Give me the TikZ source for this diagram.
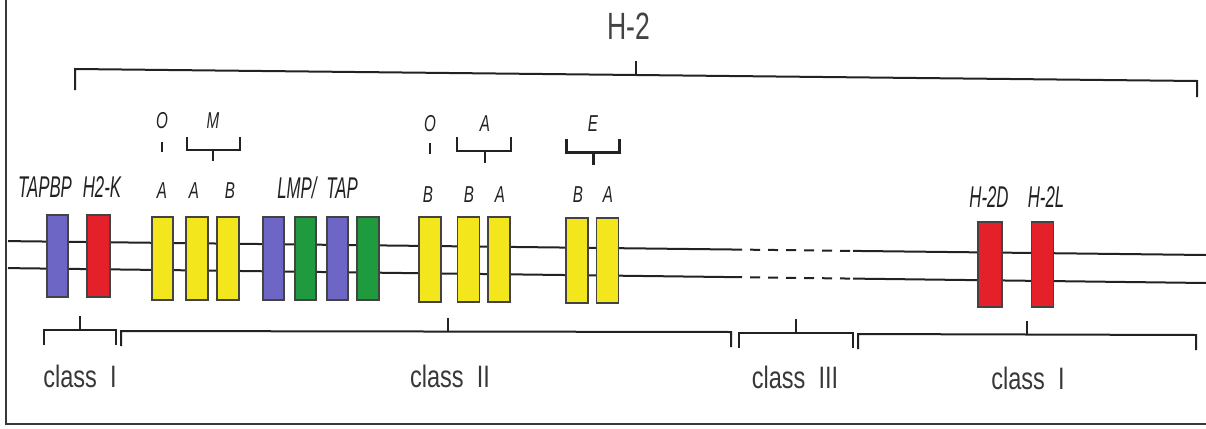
\documentclass[tikz,border=0pt]{standalone}
\usepackage{fontspec}
\setmainfont{Liberation Sans}
\newfontfamily\genefont[FakeStretch=0.56]{Liberation Sans}
\newfontfamily\letterfont[FakeStretch=0.66]{Liberation Sans}
\newfontfamily\classfont[FakeStretch=0.76]{Liberation Sans}
\newfontfamily\titlefont[FakeStretch=0.70]{Liberation Sans}
\definecolor{genyellow}{HTML}{F4E61C}
\definecolor{genblue}{HTML}{6E66C4}
\definecolor{gengreen}{HTML}{1F9A3E}
\definecolor{genred}{HTML}{E4202A}
\definecolor{ink}{HTML}{222222}
\tikzset{
  gene/.style={draw=ink!85, line width=1.2pt, minimum width=22pt, minimum height=83pt, inner sep=0pt},
  yel/.style={gene, fill=genyellow},
  blu/.style={gene, fill=genblue},
  grn/.style={gene, fill=gengreen},
  rd/.style={gene, fill=genred, minimum height=85pt},
  genelab/.style={anchor=base, inner sep=0pt, text=ink, font=\genefont\itshape\fontsize{30}{30}\selectfont},
  letlab/.style={anchor=base, inner sep=0pt, text=ink, font=\letterfont\itshape\fontsize{23}{23}\selectfont},
  classlab/.style={anchor=base, inner sep=0pt, text=ink!90, font=\classfont\fontsize{31}{31}\selectfont},
  chrom/.style={line width=2pt, draw=ink},
  brace/.style={line width=2pt, draw=ink},
  frame/.style={line width=2pt, draw=ink!90}
}
\begin{document}
\begin{tikzpicture}[x=1pt, y=-1pt]
\useasboundingbox (0,0) rectangle (1206,428);

% outer frame (left and bottom edges)
\draw[frame] (6,0) -- (6,424) -- (1206,424);

% H-2 region bracket and title
\node[anchor=base, inner sep=0pt, text=ink!85, font=\titlefont\fontsize{38}{38}\selectfont] (h2) at (629,40) {H-2};
\coordinate (h2l) at (75,69);
\coordinate (h2r) at (1197,81);
\coordinate (h2c) at (636,75);
\draw[brace] ([yshift=-21pt]h2l) -- (h2l) -- (h2r) -- ([yshift=-16pt]h2r);
\draw[brace] (h2c) -- ([yshift=14pt]h2c);

% chromosome strands (dashed stretch in the middle)
\coordinate (u0) at (8,241.1);  \coordinate (u1) at (732,249.5);
\coordinate (u2) at (853,250.9); \coordinate (u3) at (1206,255);
\coordinate (l0) at (8,268.1);  \coordinate (l1) at (732,277.1);
\coordinate (l2) at (853,278.6); \coordinate (l3) at (1206,283);
\draw[chrom] (u0) -- (u1);
\draw[chrom, dash pattern=on 10pt off 8pt] (u1) -- (u2);
\draw[chrom] (u2) -- (u3);
\draw[chrom] (l0) -- (l1);
\draw[chrom, dash pattern=on 10pt off 8pt] (l1) -- (l2);
\draw[chrom] (l2) -- (l3);

% genes
\node[blu, minimum width=21pt, minimum height=82pt] (tapbp) at (57.5,256) {};
\node[rd, minimum width=23pt, minimum height=82pt] (h2k) at (98.5,256) {};
\node[yel, minimum width=21pt] (oa) at (162.5,258.5) {};
\node[yel] (ma) at (197,258.5) {};
\node[yel] (mb) at (228,258.5) {};
\node[blu, minimum width=21pt] (lmp1) at (273.5,258.5) {};
\node[grn, minimum width=21pt] (tap1) at (305.5,258.5) {};
\node[blu, minimum width=21pt] (lmp2) at (337.5,258.5) {};
\node[grn] (tap2) at (368,258.5) {};
\node[yel, minimum height=85pt] (ob) at (430,259.5) {};
\node[yel, minimum height=85pt] (ab) at (468.5,259.5) {};
\node[yel, minimum height=85pt] (aa) at (499,259.5) {};
\node[yel, minimum height=85pt] (eb) at (577,260.5) {};
\node[yel, minimum height=85pt] (ea) at (607.5,260.5) {};
\node[rd, minimum width=24pt] (h2d) at (990,264.5) {};
\node[rd] (h2lg) at (1042.5,264.5) {};

% gene names
\node[genelab] (ltapbp) at (45,197) {TAPBP};
\node[genelab] (lh2k) at (102,197) {H2-K};
\node[genelab] (llmp) at (297,198) {LMP/};
\node[genelab] (ltap) at (342,198) {TAP};
\node[genelab] (lh2d) at (989,207) {H-2D};
\node[genelab] (lh2l) at (1046,207) {H-2L};

% locus letters
\node[letlab] (loa) at (162,198) {A};
\node[letlab] (lma) at (194,198) {A};
\node[letlab] (lmb) at (230,198) {B};
\node[letlab] (lob) at (428,202) {B};
\node[letlab] (lab) at (469,202) {B};
\node[letlab] (laa) at (500,202) {A};
\node[letlab] (leb) at (578,202) {B};
\node[letlab] (lea) at (608,202) {A};

% group letters and their brackets
\node[letlab] (go1) at (162,128) {O};
\node[letlab] (gm) at (213,128) {M};
\node[letlab] (go2) at (430,131) {O};
\node[letlab] (ga) at (485,131) {A};
\node[letlab] (ge) at (593,131) {E};
\coordinate (o1t) at (162,152); \coordinate (o2t) at (430,154);
\draw[brace, line width=2.6pt] (o1t) -- ([yshift=10pt]o1t);
\draw[brace, line width=2.6pt] (o2t) -- ([yshift=11pt]o2t);
\coordinate (mL) at (187,150); \coordinate (mR) at (240,150); \coordinate (mC) at (213,150);
\draw[brace] ([yshift=13pt]mL) -- (mL) -- (mR) -- ([yshift=13pt]mR);
\draw[brace] (mC) -- ([yshift=-11pt]mC);
\coordinate (aL) at (457,151); \coordinate (aR) at (511,151); \coordinate (aC) at (485,151);
\draw[brace] ([yshift=14pt]aL) -- (aL) -- (aR) -- ([yshift=14pt]aR);
\draw[brace] (aC) -- ([yshift=-12pt]aC);
\coordinate (eL) at (566,152); \coordinate (eR) at (619,152); \coordinate (eC) at (593,152);
\draw[brace, line width=3pt] ([yshift=13pt]eL) -- (eL) -- (eR) -- ([yshift=13pt]eR);
\draw[brace, line width=3pt] (eC) -- ([yshift=-13pt]eC);

% class brackets below the strands
\coordinate (c1L) at (44,330);  \coordinate (c1R) at (116,330);  \coordinate (c1C) at (80,330);
\coordinate (c2L) at (121,331); \coordinate (c2R) at (731,332);  \coordinate (c2C) at (448,331.5);
\coordinate (c3L) at (739,333); \coordinate (c3R) at (853,333);  \coordinate (c3C) at (796,333);
\coordinate (c4L) at (858,334); \coordinate (c4R) at (1196,335); \coordinate (c4C) at (1027,334.5);
\foreach \n in {1,2,3,4}{
  \draw[brace] ([yshift=-15pt]c\n L) -- (c\n L) -- (c\n R) -- ([yshift=-15pt]c\n R);
  \draw[brace] (c\n C) -- ([yshift=14pt]c\n C);
}

% class labels
\node[classlab] (k1) at (80,387) {class\ \ I};
\node[classlab] (k2) at (450,387) {class\ \ II};
\node[classlab] (k3) at (795,388) {class\ \ III};
\node[classlab] (k4) at (1028,389) {class\ \ I};
\end{tikzpicture}
\end{document}
